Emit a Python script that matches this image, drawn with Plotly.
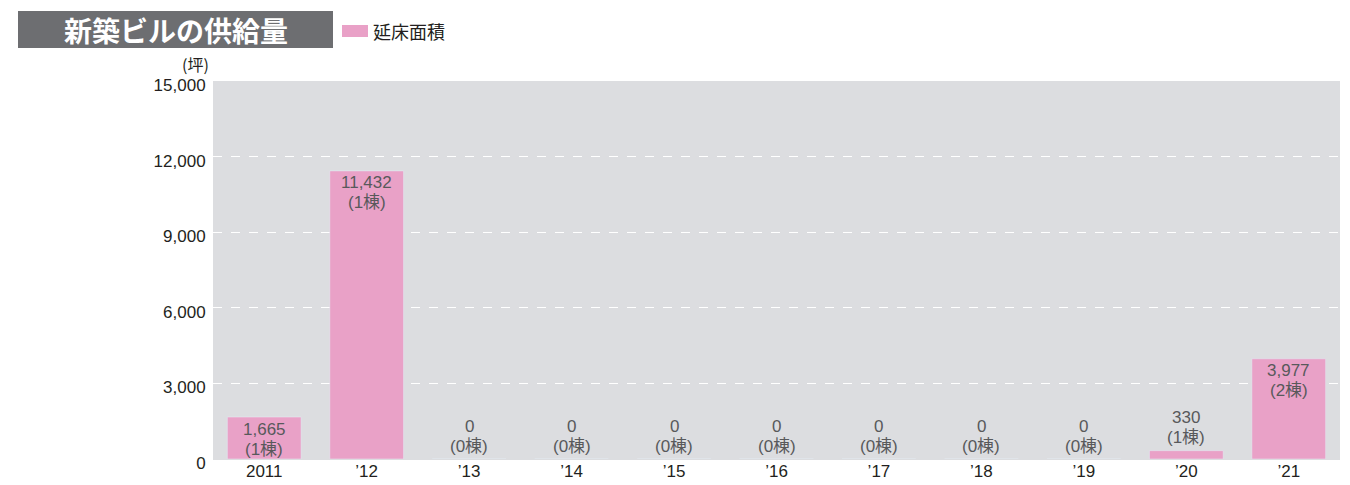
import plotly.graph_objects as go

categories = ["2011", "’12", "’13", "’14", "’15", "’16", "’17", "’18", "’19", "’20", "’21"]
floor_area = [1665, 11432, 0, 0, 0, 0, 0, 0, 0, 330, 3977]
buildings = [1, 1, 0, 0, 0, 0, 0, 0, 0, 1, 2]
y_ticks = [0, 3000, 6000, 9000, 12000, 15000]
title_text = "新築ビルの供給量"
legend_name = "延床面積"
unit_text = "(坪)"

W, H = 1350, 485
ML, MR, MT, MB = 213, 10, 81, 26
PW, PH = W - ML - MR, H - MT - MB

def px_x(x):
    return (x - ML) / PW

def px_y(y):
    return 1 - (y - MT) / PH

BAR = "#e9a1c7"
FONT = "Liberation Sans, Arial, Noto Sans CJK JP, sans-serif"
LBL = dict(family=FONT, size=17, color="#58595b")

fig = go.Figure()
fig.add_trace(go.Bar(
    x=categories, y=floor_area, marker_color=BAR, width=0.72,
    name=legend_name, showlegend=False, hoverinfo="x+y",
))

for i, (v, n) in enumerate(zip(floor_area, buildings)):
    inside = v >= 1500
    s1, s2 = (-12, -32) if inside else (33, 13)
    fig.add_annotation(x=i, y=v, xref="x", yref="y", text=f"{v:,}",
                       showarrow=False, yanchor="middle", yshift=s1, font=LBL)
    fig.add_annotation(x=i, y=v, xref="x", yref="y", text=f"({n}棟)",
                       showarrow=False, yanchor="middle", yshift=s2, font=LBL)

# title box
fig.add_shape(type="rect", xref="paper", yref="paper",
              x0=px_x(18), x1=px_x(333), y0=px_y(48), y1=px_y(11),
              fillcolor="#6d6e71", line_width=0)
fig.add_annotation(xref="paper", yref="paper", x=px_x(176), y=px_y(30),
                   text=f"<b>{title_text}</b>", showarrow=False,
                   xanchor="center", yanchor="middle",
                   font=dict(family="Noto Sans CJK JP", size=28, color="white"))
# legend
fig.add_shape(type="rect", xref="paper", yref="paper",
              x0=px_x(342), x1=px_x(368), y0=px_y(37), y1=px_y(25),
              fillcolor=BAR, line_width=0)
fig.add_annotation(xref="paper", yref="paper", x=px_x(371), y=px_y(31),
                   text=legend_name, showarrow=False,
                   xanchor="left", yanchor="middle",
                   font=dict(family="Noto Sans CJK JP", size=18, color="#231f20"))
# unit
fig.add_annotation(xref="paper", yref="paper", x=px_x(211), y=px_y(64),
                   text=unit_text, showarrow=False,
                   xanchor="right", yanchor="middle",
                   font=dict(family="Noto Sans CJK JP", size=16, color="#231f20"))

fig.update_layout(
    width=W, height=H,
    margin=dict(l=ML, r=MR, t=MT, b=MB, autoexpand=False),
    paper_bgcolor="white", plot_bgcolor="#dcdde0",
    bargap=0.28,
    font=dict(family=FONT, size=17, color="#231f20"),
)
fig.update_xaxes(type="category", range=[-0.5, len(categories) - 0.5],
                 automargin=False,
                 showgrid=False, showline=False, ticks="",
                 tickfont=dict(size=17))
fig.update_yaxes(range=[0, 15000], tickvals=y_ticks, tickformat=",",
                 automargin=False, ticklabelshift=4,
                 showgrid=True, gridcolor="white", griddash="dash", gridwidth=1,
                 zeroline=True, zerolinecolor="#dcdde0", showline=False,
                 ticks="outside", ticklen=3, tickcolor="rgba(0,0,0,0)",
                 tickfont=dict(size=17))

fig.write_html("out.html")
